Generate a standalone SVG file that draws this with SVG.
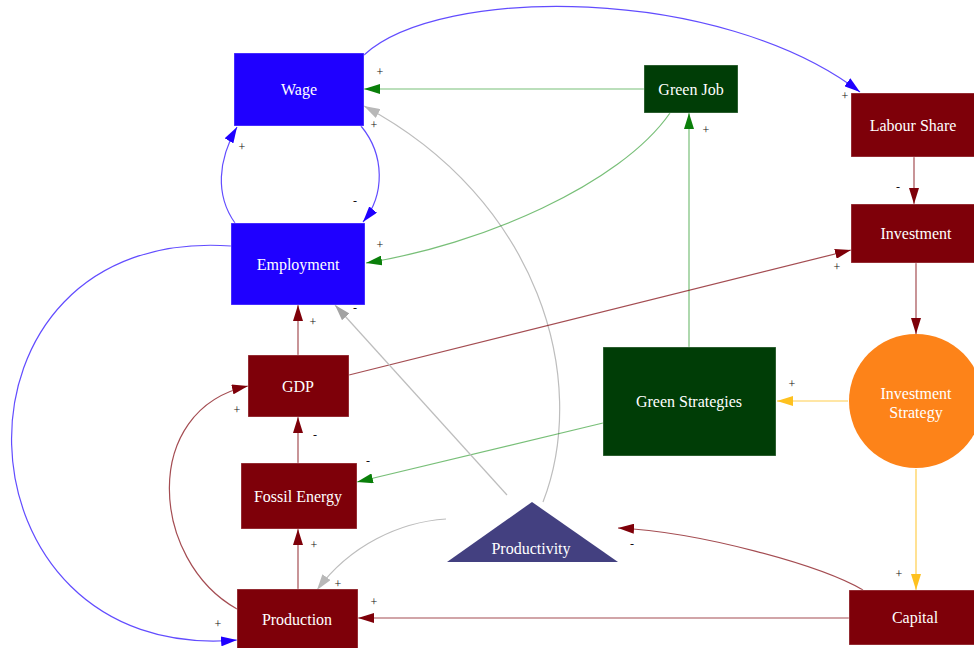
<svg xmlns="http://www.w3.org/2000/svg" width="974" height="648" viewBox="0 0 974 648">
<defs>
<style>
.lbl{font-family:"Liberation Serif","DejaVu Serif",serif;font-size:16px;fill:#fff;text-anchor:middle;dominant-baseline:central}
.sgn{font-family:"Liberation Serif","DejaVu Serif",serif;font-size:12px;fill:#111;text-anchor:middle;dominant-baseline:central}
.e{fill:none;stroke-width:1.2}
.bl{stroke:#1f00ff;stroke-opacity:0.7}
.rd{stroke:#7e0009;stroke-opacity:0.7}
.gr{stroke:#0a8a0a;stroke-opacity:0.55}
.gy{stroke:#bdbdbd}
.yl{stroke:#fec11f;stroke-opacity:0.8}
.node{stroke:#ffffff;stroke-opacity:0.35;stroke-width:1}
</style>
<marker id="aB" viewBox="0 0 16 10" refX="16" refY="5" markerWidth="16" markerHeight="10" markerUnits="userSpaceOnUse" orient="auto"><path d="M0,0 L16,5 L0,10 z" fill="#1f00ff"/></marker>
<marker id="aR" viewBox="0 0 16 10" refX="16" refY="5" markerWidth="16" markerHeight="10" markerUnits="userSpaceOnUse" orient="auto"><path d="M0,0 L16,5 L0,10 z" fill="#7e0009"/></marker>
<marker id="aG" viewBox="0 0 16 10" refX="16" refY="5" markerWidth="16" markerHeight="10" markerUnits="userSpaceOnUse" orient="auto"><path d="M0,0 L16,5 L0,10 z" fill="#0a7f0a"/></marker>
<marker id="aY" viewBox="0 0 16 10" refX="16" refY="5" markerWidth="16" markerHeight="10" markerUnits="userSpaceOnUse" orient="auto"><path d="M0,0 L16,5 L0,10 z" fill="#fec11f"/></marker>
<marker id="aL" viewBox="0 0 16 10" refX="16" refY="5" markerWidth="16" markerHeight="10" markerUnits="userSpaceOnUse" orient="auto"><path d="M0,0 L16,5 L0,10 z" fill="#b8b8b8"/></marker>
<marker id="aD" viewBox="0 0 16 10" refX="16" refY="5" markerWidth="16" markerHeight="10" markerUnits="userSpaceOnUse" orient="auto"><path d="M0,0 L16,5 L0,10 z" fill="#a3a3a3"/></marker>
</defs>
<rect width="974" height="648" fill="#fff"/>

<g id="connectors">
<path class="e bl" d="M364,55 C440,-15 720,-15 860,92" marker-end="url(#aB)"/>
<path class="e gr" d="M644,89 L364,89" marker-end="url(#aG)"/>
<path class="e gy" d="M543,502 C590,380 540,200 364,106" marker-end="url(#aL)"/>
<path class="e bl" d="M361,126 C385,155 385,195 363,222" marker-end="url(#aB)"/>
<path class="e bl" d="M235,223 C215,195 218,160 237,127" marker-end="url(#aB)"/>
<path class="e gr" d="M670,113 C620,185 480,245 366,263" marker-end="url(#aG)"/>
<path class="e gr" d="M689,347 L689,113" marker-end="url(#aG)"/>
<path class="e yl" d="M848,401 L777,401" marker-end="url(#aY)"/>
<path class="e yl" d="M916,469 L916,590" marker-end="url(#aY)"/>
<path class="e rd" d="M914,157 L914,204" marker-end="url(#aR)"/>
<path class="e rd" d="M916,263 L916,334" marker-end="url(#aR)"/>
<path class="e rd" d="M349,375 L851,250" marker-end="url(#aR)"/>
<path class="e gr" d="M603,423 L357,482" marker-end="url(#aG)"/>
<path class="e rd" d="M298,355 L298,305" marker-end="url(#aR)"/>
<path class="e rd" d="M298,463 L298,417" marker-end="url(#aR)"/>
<path class="e rd" d="M298,589 L298,529" marker-end="url(#aR)"/>
<path class="e rd" d="M237,609 C150,560 140,410 248,386" marker-end="url(#aR)"/>
<path class="e bl" d="M231,246 C-70,225 -55,665 237,640" marker-end="url(#aB)"/>
<path class="e rd" d="M849,618 L358,618" marker-end="url(#aR)"/>
<path class="e rd" d="M863,590 C820,565 700,532 618,528" marker-end="url(#aR)"/>
<path class="e gy" d="M446,519 C400,522 350,545 317,590" marker-end="url(#aL)"/>
<path class="e gy" d="M507,495 L335,305" marker-end="url(#aD)"/>
</g>

<g id="signs">
<text class="sgn" x="380" y="72">+</text>
<text class="sgn" x="374" y="125">+</text>
<text class="sgn" x="242" y="147">+</text>
<text class="sgn" x="355" y="201">-</text>
<text class="sgn" x="380" y="245">+</text>
<text class="sgn" x="355" y="308">-</text>
<text class="sgn" x="313" y="322">+</text>
<text class="sgn" x="237" y="410">+</text>
<text class="sgn" x="315" y="435">-</text>
<text class="sgn" x="368" y="461">-</text>
<text class="sgn" x="314" y="545">+</text>
<text class="sgn" x="338" y="584">+</text>
<text class="sgn" x="374" y="602">+</text>
<text class="sgn" x="218" y="624">+</text>
<text class="sgn" x="632" y="544">-</text>
<text class="sgn" x="706" y="130">+</text>
<text class="sgn" x="845" y="96">+</text>
<text class="sgn" x="898" y="187">-</text>
<text class="sgn" x="837" y="267">+</text>
<text class="sgn" x="792" y="384">+</text>
<text class="sgn" x="899" y="574">+</text>
</g>

<g id="wage"><rect class="node" x="234" y="53" width="130" height="73" fill="#1f00ff"/><text class="lbl" x="299" y="89">Wage</text></g>
<g id="employment"><rect class="node" x="231" y="223" width="134" height="82" fill="#1f00ff"/><text class="lbl" x="298" y="264">Employment</text></g>
<g id="green-job"><rect class="node" x="644" y="65" width="94" height="48" fill="#003d06"/><text class="lbl" x="691" y="89">Green Job</text></g>
<g id="labour-share"><rect class="node" x="851" y="93" width="130" height="64" fill="#7e0009"/><text class="lbl" x="913" y="125">Labour Share</text></g>
<g id="investment"><rect class="node" x="851" y="204" width="130" height="59" fill="#7e0009"/><text class="lbl" x="916" y="233.5">Investment</text></g>
<g id="investment-strategy"><circle cx="916" cy="401" r="67" fill="#fd8319"/><text class="lbl" x="916" y="393">Investment</text><text class="lbl" x="916" y="412">Strategy</text></g>
<g id="green-strategies"><rect class="node" x="603" y="347" width="173" height="109" fill="#003d06"/><text class="lbl" x="689" y="401">Green Strategies</text></g>
<g id="gdp"><rect class="node" x="248" y="355" width="101" height="62" fill="#7e0009"/><text class="lbl" x="298" y="386">GDP</text></g>
<g id="fossil-energy"><rect class="node" x="241" y="463" width="116" height="66" fill="#7e0009"/><text class="lbl" x="298" y="496">Fossil Energy</text></g>
<g id="production"><rect class="node" x="237" y="589" width="121" height="62" fill="#7e0009"/><text class="lbl" x="297" y="619">Production</text></g>
<g id="capital"><rect class="node" x="849" y="590" width="132" height="55" fill="#7e0009"/><text class="lbl" x="915" y="617">Capital</text></g>
<g id="productivity"><polygon points="532,502 618,562 447,562" fill="#434080"/><text class="lbl" x="531" y="548">Productivity</text></g>
</svg>
